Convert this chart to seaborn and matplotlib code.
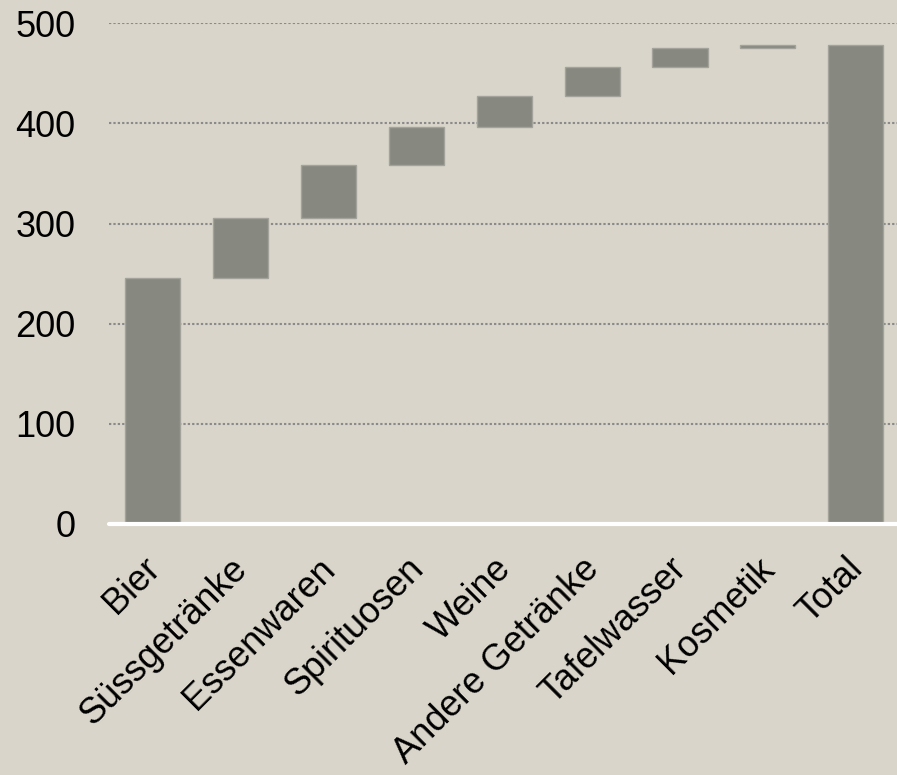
import numpy as np
import pandas as pd
import matplotlib
matplotlib.use("Agg")
import matplotlib.pyplot as plt
import matplotlib.transforms as mtransforms
import seaborn as sns

# Beitrag je Warengruppe (Wasserfall)
categories = ["Bier", "Süssgetränke", "Essenwaren", "Spirituosen", "Weine",
              "Andere Getränke", "Tafelwasser", "Kosmetik"]
values = [246, 60, 52, 38, 31, 29, 19, 3]
total_label = "Total"
y_ticks = [0, 100, 200, 300, 400, 500]

BG = "#d9d5ca"
BAR = "#878880"

sns.set_style("white")
plt.rcParams["font.family"] = ["Liberation Sans", "DejaVu Sans"]

cum = np.cumsum(values)
bottoms = np.concatenate([[0], cum[:-1], [0]])
heights = np.concatenate([values, [cum[-1]]])
df = pd.DataFrame({"cat": categories + [total_label], "height": heights})

fig = plt.figure(figsize=(8.97, 7.75), dpi=100, facecolor=BG)
ax = fig.add_axes([0.1215, 0.324, 0.8785, 0.646])
ax.set_facecolor(BG)

# gepunktete Gitterlinien
for t in y_ticks[1:]:
    ax.axhline(t, color="#8a8a8a", lw=1.5, ls=(0, (1.1, 1.0)), zorder=1)

sns.barplot(data=df, x="cat", y="height", bottom=bottoms, color=BAR,
            saturation=1, width=0.627, edgecolor="#a3a39b", linewidth=1,
            ax=ax, zorder=2)

ax.axhline(0, color="white", lw=3, zorder=3, clip_on=False)

ax.set_xlim(-0.5, 8.47)
ax.set_ylim(0, 500)
ax.set_yticks(y_ticks)
ax.set_xlabel("")
ax.set_ylabel("")
for s in ax.spines.values():
    s.set_visible(False)

ax.tick_params(axis="y", length=0, pad=24, labelsize=26, labelcolor="black")
ax.tick_params(axis="x", length=0, pad=19.5, labelsize=26, labelcolor="black")
offset = mtransforms.ScaledTranslation(14 / 100, 0, fig.dpi_scale_trans)
for lab in ax.get_xticklabels():
    lab.set_rotation(45)
    lab.set_ha("right")
    lab.set_transform(lab.get_transform() + offset)

fig.savefig("out.png", dpi=100, facecolor=BG)
